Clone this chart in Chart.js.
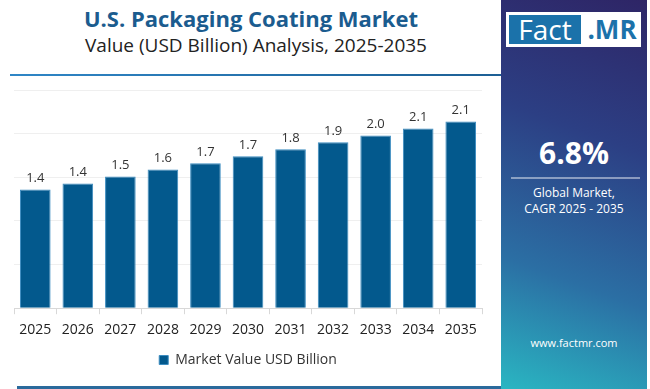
<!DOCTYPE html>
<html>
<head>
<meta charset="utf-8">
<script src="https://cdn.jsdelivr.net/npm/chart.js@4/dist/chart.umd.min.js"></script>
<style>
  html, body { margin:0; padding:0; width:650px; height:389px; overflow:hidden; background:#fff; font-family:"Open Sans", sans-serif; }
  #title { position:absolute; left:0; width:502px; top:3px; text-align:center; font-weight:700; font-size:22px; color:#1b5c8f; }
  #subtitle { position:absolute; left:0; width:512px; top:32px; text-align:center; font-size:19px; color:#222; }
  #topline { position:absolute; left:10px; top:74px; width:495px; height:2px; background:linear-gradient(90deg,#2f86c6,#1d5f94); }
  #botline { position:absolute; left:17px; top:386px; width:487px; height:3px; background:#2a6a9c; }
  #panel { position:absolute; left:501px; top:0; width:146px; height:389px; background:linear-gradient(200deg,#2e2566 0%,#2c3f84 35%,#2b6fa4 70%,#2ab6c2 100%); color:#fff; }
  #logo { position:absolute; left:5px; top:12px; width:135px; height:35px; background:#fff; }
  #logo .f { position:absolute; left:3px; top:3px; width:72px; height:29px; background:#1b72aa; color:#fff; font-size:28px; line-height:29px; text-align:center; font-family:"Open Sans",sans-serif; }
  #logo .m { position:absolute; left:77px; top:3px; width:58px; height:29px; color:#1b72aa; font-size:26px; font-weight:700; line-height:29px; text-align:center; }
  #cagr { position:absolute; left:0; width:146px; top:132px; text-align:center; font-size:30px; font-weight:700; }
  #sep { position:absolute; left:10px; width:129px; top:177px; height:2px; background:rgba(255,255,255,0.45); }
  #gm { position:absolute; left:0; width:146px; top:185px; text-align:center; font-size:12px; line-height:15.5px; }
  #www { position:absolute; left:0; width:146px; top:335px; text-align:center; font-size:11px; }
  #wrap { position:absolute; left:0; top:80px; width:500px; height:297px; }
</style>
</head>
<body>
<div id="title">U.S. Packaging Coating Market</div>
<div id="subtitle">Value (USD Billion) Analysis, 2025-2035</div>
<div id="topline"></div>
<div id="wrap"><canvas id="c"></canvas></div>
<div id="botline"></div>
<div id="panel">
  <div id="logo"><div class="f">Fact</div><div class="m">.MR</div></div>
  <div id="cagr">6.8%</div>
  <div id="sep"></div>
  <div id="gm">Global Market,<br>CAGR 2025 - 2035</div>
  <div id="www">www.factmr.com</div>
</div>
<script>
const years = ['2025','2026','2027','2028','2029','2030','2031','2032','2033','2034','2035'];
const marketValue = [1.36, 1.43, 1.51, 1.59, 1.66, 1.74, 1.82, 1.90, 1.98, 2.06, 2.14];
const seriesName = 'Market Value USD Billion';

const valueLabels = {
  id: 'valueLabels',
  afterDatasetsDraw(chart) {
    const ctx = chart.ctx;
    const meta = chart.getDatasetMeta(0);
    ctx.save();
    ctx.font = '13px "Open Sans", sans-serif';
    ctx.fillStyle = '#333';
    ctx.textAlign = 'center';
    ctx.textBaseline = 'bottom';
    meta.data.forEach((bar, i) => {
      ctx.fillText(marketValue[i].toFixed(1), bar.x, bar.y - 5);
    });
    ctx.restore();
  }
};

new Chart(document.getElementById('c'), {
  type: 'bar',
  data: {
    labels: years,
    datasets: [{
      label: seriesName,
      data: marketValue,
      backgroundColor: '#03598d',
      borderColor: '#3c8cc0',
      borderWidth: 1
    }]
  },
  options: {
    responsive: true,
    maintainAspectRatio: false,
    animation: false,
    layout: { padding: { left: 14, right: 18, top: 10, bottom: 0 } },
    plugins: {
      tooltip: { enabled: false },
      legend: {
        position: 'bottom',
        labels: { boxWidth: 9, boxHeight: 9, color: '#333', font: { family: '"Open Sans", sans-serif', size: 14 }, padding: 8 }
      }
    },
    scales: {
      x: {
        grid: { drawOnChartArea: false, drawTicks: true, tickLength: 6, color: '#d8d8d8' },
        border: { color: '#d8d8d8' },
        ticks: { color: '#222', font: { family: '"Open Sans", sans-serif', size: 14 }, padding: 7 }
      },
      y: {
        min: 0, max: 2.5,
        ticks: { display: false, stepSize: 0.5 },
        border: { display: false },
        grid: { color: '#efefef', drawTicks: false }
      }
    }
  },
  plugins: [valueLabels]
});
</script>
</body>
</html>
